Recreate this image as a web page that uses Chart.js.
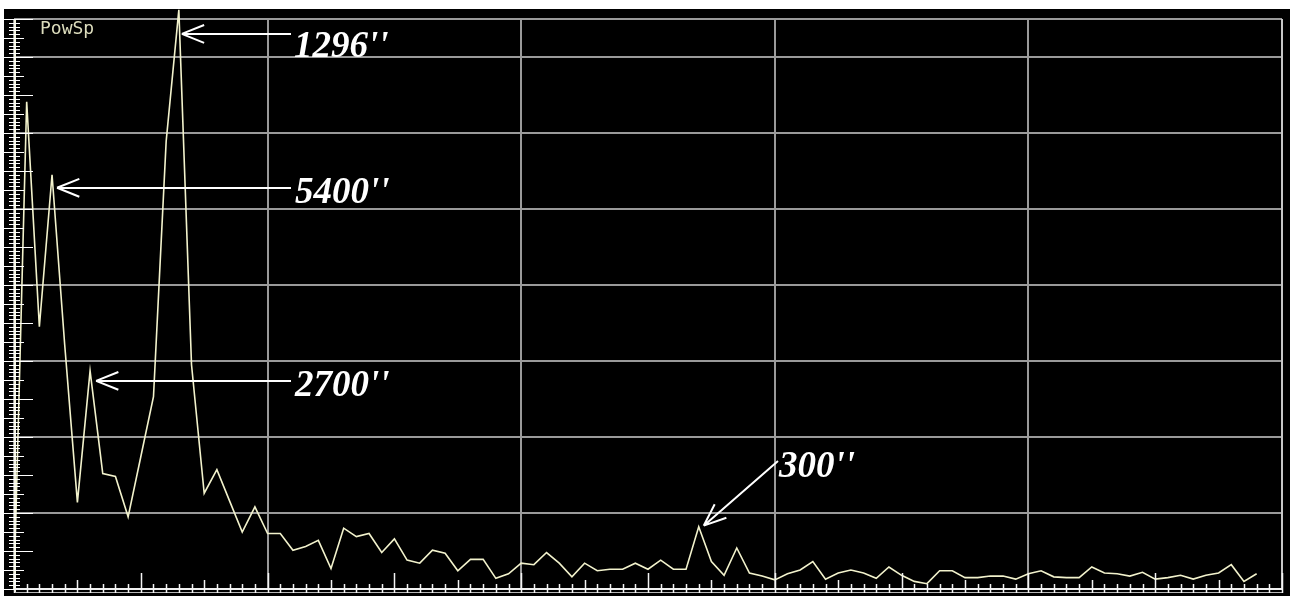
<!DOCTYPE html>
<html>
<head>
<meta charset="utf-8">
<title>PowSp</title>
<script src="https://cdn.jsdelivr.net/npm/chart.js@4/dist/chart.umd.min.js"></script>
<style>
  html, body { margin: 0; padding: 0; background: #ffffff; }
  #wrap { position: absolute; left: 0; top: 0; width: 1295px; height: 596px; }
</style>
</head>
<body>
<div id="wrap"><canvas id="spec" width="1295" height="596"></canvas></div>
<script>
// Power spectrum amplitude for each frequency bin (bin 0 .. 98)
const power = [
  0.00, 6.41, 3.45, 5.45, 3.21, 1.14, 2.87, 1.52, 1.48, 0.95,
  1.74, 2.53, 5.89, 7.62, 2.95, 1.26, 1.57, 1.16, 0.75, 1.08,
  0.73, 0.73, 0.51, 0.56, 0.64, 0.27, 0.80, 0.69, 0.73, 0.48,
  0.66, 0.38, 0.34, 0.51, 0.47, 0.24, 0.39, 0.39, 0.14, 0.20,
  0.34, 0.32, 0.48, 0.34, 0.16, 0.34, 0.24, 0.26, 0.26, 0.34,
  0.26, 0.38, 0.26, 0.26, 0.82, 0.36, 0.18, 0.54, 0.21, 0.17,
  0.12, 0.20, 0.25, 0.36, 0.13, 0.21, 0.25, 0.21, 0.14, 0.29,
  0.18, 0.10, 0.07, 0.24, 0.24, 0.15, 0.15, 0.17, 0.17, 0.13,
  0.20, 0.24, 0.16, 0.15, 0.15, 0.29, 0.21, 0.20, 0.17, 0.22,
  0.13, 0.15, 0.18, 0.13, 0.18, 0.21, 0.32, 0.10, 0.20
];

// Marked peaks: period label and the bin it points at
const peakLabels = ["1296''", "5400''", "2700''", "300''"];
const peakBins   = [13, 3, 6, 54];

const panelTitle = 'PowSp';

// Axis extents
const xMax = 100;
const yMax = 7.5;

// Arrow / label placement (pixels relative to the peak point, text anchor absolute)
const arrowGeom = [
  { dx: 3,  dy: 24, tailX: 291, tailY: 34,  textX: 294, textY: 57 },
  { dx: 5,  dy: 13, tailX: 291, tailY: 188, textX: 295, textY: 203 },
  { dx: 6,  dy: 10, tailX: 291, tailY: 381, textX: 295, textY: 396 },
  { dx: 5,  dy: -1, tailX: 778, tailY: 461, textX: 779, textY: 477 }
];

const frame = {
  id: 'frame',
  beforeDraw(chart) {
    const c = chart.ctx;
    c.save();
    c.fillStyle = '#ffffff';
    c.fillRect(0, 0, chart.width, chart.height);
    c.fillStyle = '#000000';
    c.fillRect(4, 9, 1286, 587);
    c.restore();
  },
  afterDraw(chart) {
    const c = chart.ctx;
    const xs = chart.scales.x, ys = chart.scales.y;
    const a = chart.chartArea;
    c.save();

    // right frame edge
    c.strokeStyle = '#c8c8c8';
    c.lineWidth = 2;
    c.beginPath(); c.moveTo(a.right, a.top); c.lineTo(a.right, a.bottom); c.stroke();

    // left axis with fine ruler ticks
    c.strokeStyle = '#f4f4e0';
    c.lineWidth = 2;
    c.beginPath(); c.moveTo(a.left + 1, a.top); c.lineTo(a.left + 1, a.bottom + 4); c.stroke();
    c.strokeStyle = '#ffffff';
    c.lineWidth = 1;
    for (let k = 0; k <= yMax * 20; k++) {
      const v = k / 20;
      const y = Math.round(ys.getPixelForValue(v)) + 0.5;
      let x0 = a.left - 5, x1 = a.left + 6;
      if (k % 10 === 0) { x0 = 4; x1 = a.left + 19; }
      else if (k % 5 === 0) { x0 = 4; x1 = a.left + 10; }
      c.beginPath(); c.moveTo(x0, y); c.lineTo(x1, y); c.stroke();
    }

    // bottom axis (double rule) with ticks per bin
    c.strokeStyle = '#f0f0f0';
    c.lineWidth = 2;
    c.beginPath(); c.moveTo(a.left, a.bottom); c.lineTo(a.right, a.bottom); c.stroke();
    c.strokeStyle = '#b8b8b8';
    c.lineWidth = 1;
    c.beginPath(); c.moveTo(a.left, a.bottom + 3.5); c.lineTo(a.right, a.bottom + 3.5); c.stroke();
    c.strokeStyle = '#f4f4f4';
    c.lineWidth = 1.5;
    for (let i = 0; i <= xMax; i++) {
      const x = Math.round(xs.getPixelForValue(i)) + 0.5;
      let top = a.bottom - 5;
      if (i % 10 === 0) top = a.bottom - 16;
      else if (i % 5 === 0) top = a.bottom - 9;
      c.beginPath(); c.moveTo(x, top); c.lineTo(x, a.bottom + 4); c.stroke();
    }

    // panel title
    c.fillStyle = '#dcdcbc';
    c.font = '18px "DejaVu Sans Mono", monospace';
    c.textBaseline = 'alphabetic';
    c.fillText(panelTitle, 40, 34);

    // arrows to the marked peaks
    c.strokeStyle = '#ffffff';
    c.fillStyle = '#ffffff';
    c.lineWidth = 2;
    peakBins.forEach((bin, n) => {
      const g = arrowGeom[n];
      const px = xs.getPixelForValue(bin) + g.dx;
      const py = ys.getPixelForValue(power[bin]) + g.dy;
      const ang = Math.atan2(g.tailY - py, g.tailX - px);
      const len = 24, spread = 0.38;
      c.beginPath();
      c.moveTo(px, py); c.lineTo(g.tailX, g.tailY);
      c.moveTo(px, py); c.lineTo(px + len * Math.cos(ang - spread), py + len * Math.sin(ang - spread));
      c.moveTo(px, py); c.lineTo(px + len * Math.cos(ang + spread), py + len * Math.sin(ang + spread));
      c.stroke();
      c.font = 'italic bold 37px "Liberation Serif", "DejaVu Serif", serif';
      c.fillText(peakLabels[n], g.textX, g.textY);
    });

    c.restore();
  }
};

new Chart(document.getElementById('spec'), {
  type: 'line',
  data: {
    datasets: [{
      data: power.map((v, i) => ({ x: i, y: v })),
      borderColor: '#f2f2cc',
      borderWidth: 1.6,
      pointRadius: 0,
      tension: 0,
      clip: false
    }]
  },
  options: {
    responsive: false,
    animation: false,
    layout: { padding: { left: 14, right: 13, top: 19, bottom: 7 } },
    plugins: { legend: { display: false }, tooltip: { enabled: false } },
    scales: {
      x: {
        type: 'linear', min: 0, max: xMax,
        ticks: { display: false, stepSize: 20 },
        grid: { color: '#9a9a9a', lineWidth: 2, drawTicks: false },
        border: { display: false }
      },
      y: {
        min: 0, max: yMax,
        ticks: { display: false, stepSize: 1 },
        grid: { color: '#9a9a9a', lineWidth: 2, drawTicks: false },
        border: { display: false }
      }
    }
  },
  plugins: [frame]
});
</script>
</body>
</html>
